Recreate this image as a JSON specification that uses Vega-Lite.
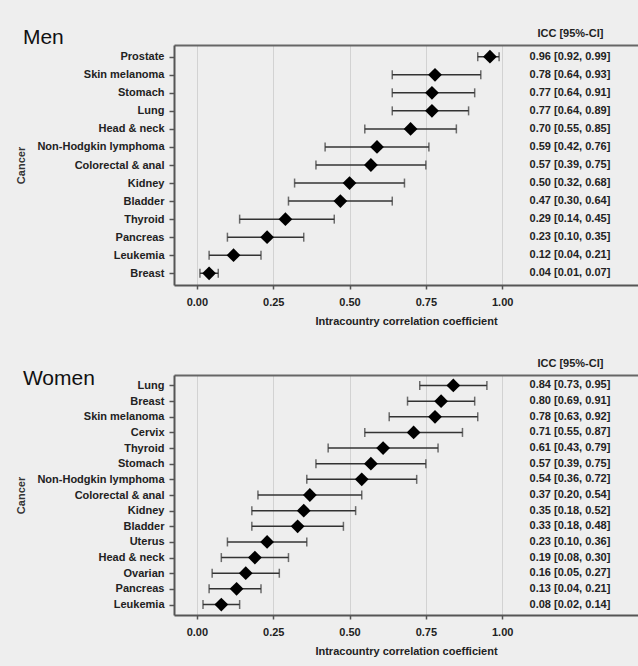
{
  "$schema": "https://vega.github.io/schema/vega-lite/v6.json",
  "background": "#eeeeee",
  "padding": {"top": 26, "left": 15, "right": 0, "bottom": 10},
  "spacing": 31,
  "config": {
    "font": "Liberation Sans",
    "view": {"stroke": null},
    "axis": {"labelFont": "Liberation Sans", "titleFont": "Liberation Sans"}
  },
  "datasets": {
    "men": [
      {"cancer": "Prostate", "icc": 0.96, "lo": 0.92, "hi": 0.99, "label": "0.96 [0.92, 0.99]"},
      {"cancer": "Skin melanoma", "icc": 0.78, "lo": 0.64, "hi": 0.93, "label": "0.78 [0.64, 0.93]"},
      {"cancer": "Stomach", "icc": 0.77, "lo": 0.64, "hi": 0.91, "label": "0.77 [0.64, 0.91]"},
      {"cancer": "Lung", "icc": 0.77, "lo": 0.64, "hi": 0.89, "label": "0.77 [0.64, 0.89]"},
      {"cancer": "Head & neck", "icc": 0.70, "lo": 0.55, "hi": 0.85, "label": "0.70 [0.55, 0.85]"},
      {"cancer": "Non-Hodgkin lymphoma", "icc": 0.59, "lo": 0.42, "hi": 0.76, "label": "0.59 [0.42, 0.76]"},
      {"cancer": "Colorectal & anal", "icc": 0.57, "lo": 0.39, "hi": 0.75, "label": "0.57 [0.39, 0.75]"},
      {"cancer": "Kidney", "icc": 0.50, "lo": 0.32, "hi": 0.68, "label": "0.50 [0.32, 0.68]"},
      {"cancer": "Bladder", "icc": 0.47, "lo": 0.30, "hi": 0.64, "label": "0.47 [0.30, 0.64]"},
      {"cancer": "Thyroid", "icc": 0.29, "lo": 0.14, "hi": 0.45, "label": "0.29 [0.14, 0.45]"},
      {"cancer": "Pancreas", "icc": 0.23, "lo": 0.10, "hi": 0.35, "label": "0.23 [0.10, 0.35]"},
      {"cancer": "Leukemia", "icc": 0.12, "lo": 0.04, "hi": 0.21, "label": "0.12 [0.04, 0.21]"},
      {"cancer": "Breast", "icc": 0.04, "lo": 0.01, "hi": 0.07, "label": "0.04 [0.01, 0.07]"}
    ],
    "women": [
      {"cancer": "Lung", "icc": 0.84, "lo": 0.73, "hi": 0.95, "label": "0.84 [0.73, 0.95]"},
      {"cancer": "Breast", "icc": 0.80, "lo": 0.69, "hi": 0.91, "label": "0.80 [0.69, 0.91]"},
      {"cancer": "Skin melanoma", "icc": 0.78, "lo": 0.63, "hi": 0.92, "label": "0.78 [0.63, 0.92]"},
      {"cancer": "Cervix", "icc": 0.71, "lo": 0.55, "hi": 0.87, "label": "0.71 [0.55, 0.87]"},
      {"cancer": "Thyroid", "icc": 0.61, "lo": 0.43, "hi": 0.79, "label": "0.61 [0.43, 0.79]"},
      {"cancer": "Stomach", "icc": 0.57, "lo": 0.39, "hi": 0.75, "label": "0.57 [0.39, 0.75]"},
      {"cancer": "Non-Hodgkin lymphoma", "icc": 0.54, "lo": 0.36, "hi": 0.72, "label": "0.54 [0.36, 0.72]"},
      {"cancer": "Colorectal & anal", "icc": 0.37, "lo": 0.20, "hi": 0.54, "label": "0.37 [0.20, 0.54]"},
      {"cancer": "Kidney", "icc": 0.35, "lo": 0.18, "hi": 0.52, "label": "0.35 [0.18, 0.52]"},
      {"cancer": "Bladder", "icc": 0.33, "lo": 0.18, "hi": 0.48, "label": "0.33 [0.18, 0.48]"},
      {"cancer": "Uterus", "icc": 0.23, "lo": 0.10, "hi": 0.36, "label": "0.23 [0.10, 0.36]"},
      {"cancer": "Head & neck", "icc": 0.19, "lo": 0.08, "hi": 0.30, "label": "0.19 [0.08, 0.30]"},
      {"cancer": "Ovarian", "icc": 0.16, "lo": 0.05, "hi": 0.27, "label": "0.16 [0.05, 0.27]"},
      {"cancer": "Pancreas", "icc": 0.13, "lo": 0.04, "hi": 0.21, "label": "0.13 [0.04, 0.21]"},
      {"cancer": "Leukemia", "icc": 0.08, "lo": 0.02, "hi": 0.14, "label": "0.08 [0.02, 0.14]"}
    ]
  },
  "vconcat": [
    {
      "width": 464,
      "height": 240,
      "data": {"name": "men"},
      "encoding": {
        "y": {"field": "cancer", "type": "nominal", "sort": null,
          "scale": {"type": "point", "padding": 0.65},
          "axis": {"title": "Cancer", "titleFontSize": 11, "titleFontWeight": "bold", "titleColor": "#333333", "titlePadding": 10,
            "labelFontSize": 11, "labelFontWeight": "bold", "labelColor": "#222222", "labelPadding": 5,
            "tickSize": 5, "tickColor": "#555555", "tickWidth": 1.5, "domainColor": "#555555", "domainWidth": 2, "grid": false}}
      },
      "layer": [
        {
          "mark": {"type": "rule", "color": "#333333", "strokeWidth": 1.5},
          "encoding": {
            "x": {"field": "lo", "type": "quantitative", "scale": {"domain": [-0.075, 1.445], "nice": false, "zero": false},
              "axis": {"orient": "bottom", "title": "Intracountry correlation coefficient", "titleFontSize": 11, "titleFontWeight": "bold", "titleColor": "#222222", "titlePadding": 8,
                "values": [0, 0.25, 0.5, 0.75, 1], "format": ".2f", "labelFontSize": 11, "labelFontWeight": "bold", "labelColor": "#222222", "labelPadding": 7,
                "tickSize": 4, "tickColor": "#555555", "tickWidth": 1.5, "domainColor": "#555555", "domainWidth": 2,
                "grid": true, "gridColor": "#d2d2d2", "gridWidth": 1}},
            "x2": {"field": "hi"}
          }
        },
        {
          "mark": {"type": "tick", "color": "#333333", "thickness": 1.5, "size": 9},
          "encoding": {"x": {"field": "lo", "type": "quantitative", "axis": null}}
        },
        {
          "mark": {"type": "tick", "color": "#333333", "thickness": 1.5, "size": 9},
          "encoding": {"x": {"field": "hi", "type": "quantitative", "axis": null}}
        },
        {
          "mark": {"type": "point", "shape": "diamond", "filled": true, "color": "#000000", "opacity": 1, "size": 190},
          "encoding": {"x": {"field": "icc", "type": "quantitative", "axis": null}}
        },
        {
          "mark": {"type": "text", "align": "center", "baseline": "middle", "fontSize": 11, "fontWeight": "bold", "color": "#222222"},
          "encoding": {
            "x": {"datum": 1.222, "type": "quantitative",
              "axis": {"orient": "top", "title": null, "values": [1.222], "labelExpr": "'ICC [95%-CI]'", "ticks": false, "tickSize": 0, "grid": false,
                "labelFontSize": 11, "labelFontWeight": "bold", "labelColor": "#222222", "labelPadding": 7,
                "domainColor": "#666666", "domainWidth": 2}},
            "text": {"field": "label"}
          }
        },
        {
          "data": {"values": [{"panel": "Men", "first": "Prostate"}]},
          "mark": {"type": "text", "align": "left", "baseline": "alphabetic", "fontSize": 21, "fontWeight": "normal", "color": "#111111", "dy": -13},
          "encoding": {
            "x": {"datum": -0.57, "type": "quantitative", "axis": null},
            "y": {"field": "first", "type": "nominal"},
            "text": {"field": "panel"}
          }
        }
      ],
      "resolve": {"axis": {"x": "independent"}}
    },
    {
      "width": 464,
      "height": 240,
      "data": {"name": "women"},
      "encoding": {
        "y": {"field": "cancer", "type": "nominal", "sort": null,
          "scale": {"type": "point", "padding": 0.67},
          "axis": {"title": "Cancer", "titleFontSize": 11, "titleFontWeight": "bold", "titleColor": "#333333", "titlePadding": 10,
            "labelFontSize": 11, "labelFontWeight": "bold", "labelColor": "#222222", "labelPadding": 5,
            "tickSize": 5, "tickColor": "#555555", "tickWidth": 1.5, "domainColor": "#555555", "domainWidth": 2, "grid": false}}
      },
      "layer": [
        {
          "mark": {"type": "rule", "color": "#333333", "strokeWidth": 1.5},
          "encoding": {
            "x": {"field": "lo", "type": "quantitative", "scale": {"domain": [-0.075, 1.445], "nice": false, "zero": false},
              "axis": {"orient": "bottom", "title": "Intracountry correlation coefficient", "titleFontSize": 11, "titleFontWeight": "bold", "titleColor": "#222222", "titlePadding": 8,
                "values": [0, 0.25, 0.5, 0.75, 1], "format": ".2f", "labelFontSize": 11, "labelFontWeight": "bold", "labelColor": "#222222", "labelPadding": 7,
                "tickSize": 4, "tickColor": "#555555", "tickWidth": 1.5, "domainColor": "#555555", "domainWidth": 2,
                "grid": true, "gridColor": "#d2d2d2", "gridWidth": 1}},
            "x2": {"field": "hi"}
          }
        },
        {
          "mark": {"type": "tick", "color": "#333333", "thickness": 1.5, "size": 9},
          "encoding": {"x": {"field": "lo", "type": "quantitative", "axis": null}}
        },
        {
          "mark": {"type": "tick", "color": "#333333", "thickness": 1.5, "size": 9},
          "encoding": {"x": {"field": "hi", "type": "quantitative", "axis": null}}
        },
        {
          "mark": {"type": "point", "shape": "diamond", "filled": true, "color": "#000000", "opacity": 1, "size": 190},
          "encoding": {"x": {"field": "icc", "type": "quantitative", "axis": null}}
        },
        {
          "mark": {"type": "text", "align": "center", "baseline": "middle", "fontSize": 11, "fontWeight": "bold", "color": "#222222"},
          "encoding": {
            "x": {"datum": 1.222, "type": "quantitative",
              "axis": {"orient": "top", "title": null, "values": [1.222], "labelExpr": "'ICC [95%-CI]'", "ticks": false, "tickSize": 0, "grid": false,
                "labelFontSize": 11, "labelFontWeight": "bold", "labelColor": "#222222", "labelPadding": 7,
                "domainColor": "#666666", "domainWidth": 2}},
            "text": {"field": "label"}
          }
        },
        {
          "data": {"values": [{"panel": "Women", "first": "Lung"}]},
          "mark": {"type": "text", "align": "left", "baseline": "alphabetic", "fontSize": 21, "fontWeight": "normal", "color": "#111111", "dy": 0},
          "encoding": {
            "x": {"datum": -0.57, "type": "quantitative", "axis": null},
            "y": {"field": "first", "type": "nominal"},
            "text": {"field": "panel"}
          }
        }
      ],
      "resolve": {"axis": {"x": "independent"}}
    }
  ]
}
